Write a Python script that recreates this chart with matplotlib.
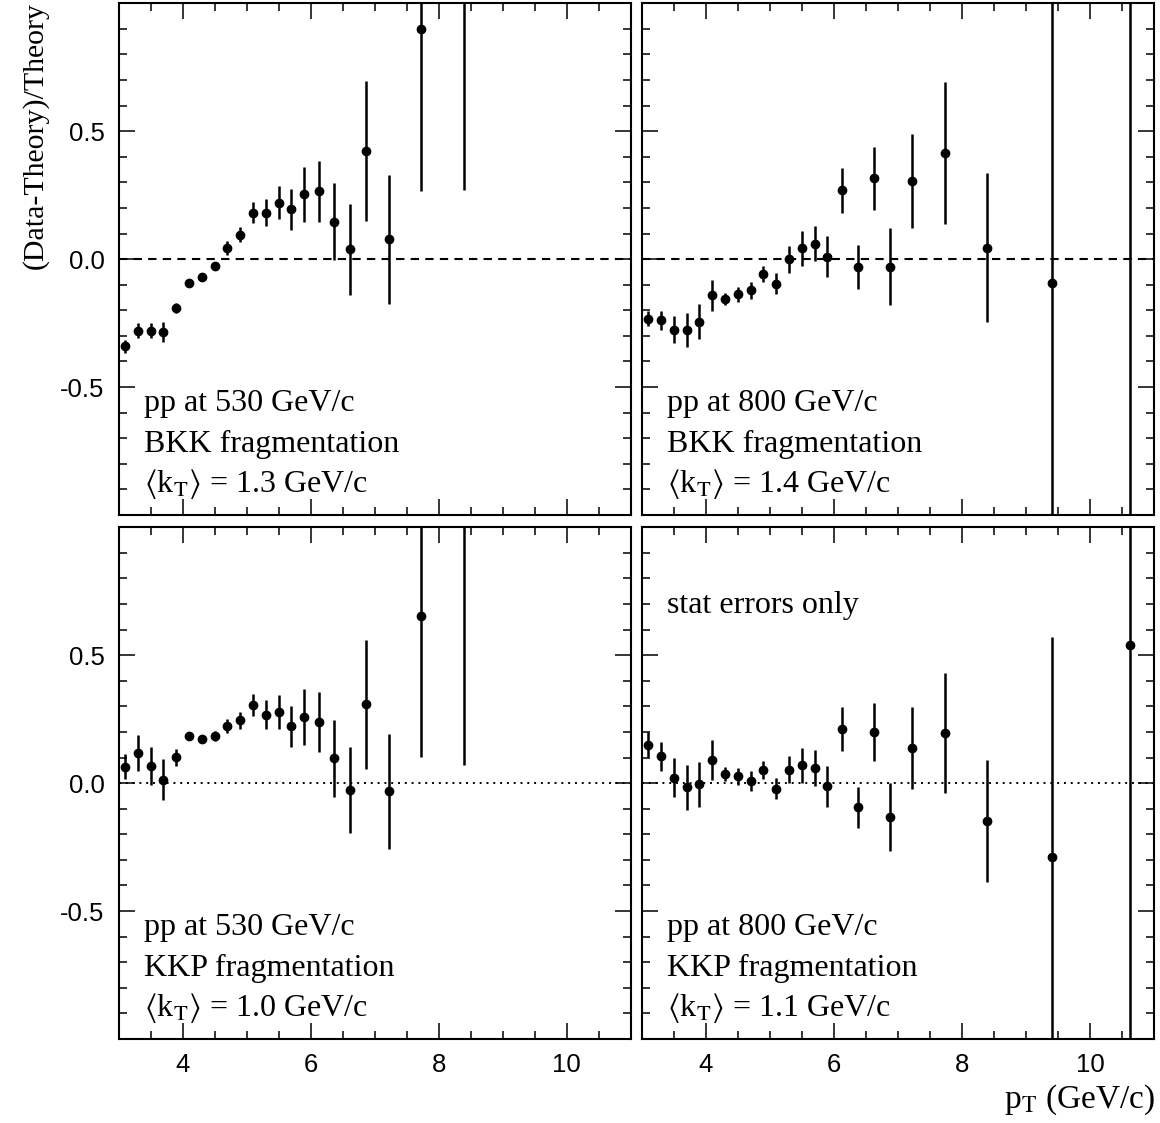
import matplotlib
matplotlib.use("Agg")
import matplotlib.pyplot as plt
from matplotlib.ticker import MultipleLocator, FixedLocator

plt.rcParams['font.family'] = ['Liberation Sans', 'DejaVu Sans']
plt.rcParams['mathtext.fontset'] = 'stix'

# pT bin centres (GeV/c)
pt_530 = [3.1, 3.3, 3.5, 3.7, 3.9, 4.1, 4.3, 4.5, 4.7, 4.9, 5.1, 5.3, 5.5, 5.7, 5.9,
          6.13, 6.37, 6.62, 6.87, 7.22, 7.73, 8.39]
pt_800 = pt_530 + [9.4, 10.63]

# (Data-Theory)/Theory, pp at 530 GeV/c, BKK
y530_bkk = [-0.34, -0.28, -0.28, -0.285, -0.19, -0.095, -0.07, -0.025, 0.044, 0.096, 0.182,
            0.182, 0.221, 0.195, 0.253, 0.265, 0.147, 0.038, 0.422, 0.077, 0.899, 1.25]
e530_bkk = [0.025, 0.03, 0.03, 0.04, 0.02, 0.01, 0.01, 0.015, 0.027, 0.03, 0.04,
            0.054, 0.064, 0.08, 0.107, 0.12, 0.15, 0.177, 0.273, 0.253, 0.634, 0.98]

# pp at 800 GeV/c, BKK
y800_bkk = [-0.232, -0.239, -0.275, -0.278, -0.244, -0.142, -0.156, -0.138, -0.122, -0.057,
            -0.096, -0.001, 0.042, 0.06, 0.009, 0.269, -0.031, 0.316, -0.029, 0.306, 0.414,
            0.044, -0.092, 1.3]
e800_bkk = [0.031, 0.037, 0.054, 0.066, 0.068, 0.062, 0.024, 0.029, 0.033, 0.031,
            0.04, 0.053, 0.068, 0.069, 0.08, 0.087, 0.087, 0.122, 0.149, 0.184, 0.277,
            0.291, 1.5, 2.5]

# pp at 530 GeV/c, KKP
y530_kkp = [0.064, 0.118, 0.067, 0.014, 0.101, 0.184, 0.171, 0.184, 0.223, 0.245, 0.305,
            0.268, 0.278, 0.222, 0.258, 0.239, 0.097, -0.027, 0.309, -0.032, 0.654, 1.1]
e530_kkp = [0.049, 0.07, 0.073, 0.08, 0.034, 0.008, 0.015, 0.018, 0.026, 0.035, 0.044,
            0.058, 0.066, 0.081, 0.11, 0.117, 0.151, 0.167, 0.252, 0.226, 0.55, 1.03]

# pp at 800 GeV/c, KKP
y800_kkp = [0.151, 0.105, 0.022, -0.016, -0.005, 0.092, 0.036, 0.027, 0.009, 0.053,
            -0.022, 0.053, 0.07, 0.06, -0.013, 0.213, -0.095, 0.2, -0.132, 0.138, 0.195,
            -0.148, -0.287, 0.54]
e800_kkp = [0.05, 0.056, 0.076, 0.088, 0.088, 0.078, 0.026, 0.034, 0.038, 0.035,
            0.041, 0.054, 0.068, 0.07, 0.079, 0.086, 0.081, 0.113, 0.133, 0.16, 0.234,
            0.239, 0.86, 2.0]

labels = [
    ["pp at 530 GeV/c", "BKK fragmentation", r"$\langle$k$_{\rm T}$$\rangle$ = 1.3 GeV/c"],
    ["pp at 800 GeV/c", "BKK fragmentation", r"$\langle$k$_{\rm T}$$\rangle$ = 1.4 GeV/c"],
    ["pp at 530 GeV/c", "KKP fragmentation", r"$\langle$k$_{\rm T}$$\rangle$ = 1.0 GeV/c"],
    ["pp at 800 GeV/c", "KKP fragmentation", r"$\langle$k$_{\rm T}$$\rangle$ = 1.1 GeV/c"],
]

W, H = 1160, 1123
fig = plt.figure(figsize=(W / 100, H / 100), dpi=100)

pw, ph = 512.3 / W, 511.7 / H
lefts = [118.5 / W, 641.7 / W]
bottoms = [1 - 515 / H, 1 - 1039 / H]

panels = [
    (pt_530, y530_bkk, e530_bkk),
    (pt_800, y800_bkk, e800_bkk),
    (pt_530, y530_kkp, e530_kkp),
    (pt_800, y800_kkp, e800_kkp),
]

serif = ['Liberation Serif', 'DejaVu Serif']

for i, (x, y, e) in enumerate(panels):
    row, col = divmod(i, 2)
    ax = fig.add_axes([lefts[col], bottoms[row], pw, ph])

    if row == 0:
        ax.axhline(0, color='black', lw=1.5, linestyle=(0, (4, 3)), zorder=1)
    else:
        ax.axhline(0, color='black', lw=1.4, linestyle=(0, (1, 2.5)), zorder=1)

    ax.errorbar(x, y, yerr=e, fmt='o', color='black', ms=6, elinewidth=1.8,
                capsize=0, zorder=3)

    ax.xaxis.set_major_locator(MultipleLocator(2))
    ax.xaxis.set_minor_locator(MultipleLocator(0.5))
    ax.yaxis.set_major_locator(FixedLocator([-1.0, -0.5, 0.0, 0.5, 1.0]))
    ax.yaxis.set_minor_locator(MultipleLocator(0.1))
    ax.tick_params(which='both', direction='in', top=True, right=True, width=1.1,
                   labelsize=18.5)
    ax.tick_params(which='major', length=11.5, pad=10)
    ax.tick_params(which='minor', length=5.8)
    for s in ax.spines.values():
        s.set_linewidth(1.5)

    if col == 0:
        ax.set_yticks([-1.0, -0.5, 0.0, 0.5, 1.0])
        ax.set_yticklabels(['', '-0.5', '0.0', '0.5', ''])
    else:
        ax.set_yticklabels([])
    if row == 1:
        ax.set_xticks([4, 6, 8, 10])
        ax.set_xticklabels(['4', '6', '8', '10'])
    else:
        ax.set_xticklabels([])
    ax.set_xlim(3, 11)
    ax.set_ylim(-1, 1)

    for line, yy in zip(labels[i], [0.204, 0.123, 0.044]):
        ax.text(0.05, yy, line, transform=ax.transAxes, family=serif,
                fontsize=23, va='baseline', ha='left')

    if i == 3:
        ax.text(0.05, 0.832, "stat errors only", transform=ax.transAxes,
                family=serif, fontsize=23, va='baseline', ha='left')

fig.text(0.030, 0.998, "(Data-Theory)/Theory", rotation=90, family=serif,
         fontsize=21.5, ha='center', va='top')
fig.text(0.996, 0.014, r"p$_{\rm T}$ (GeV/c)", family=serif, fontsize=24,
         ha='right', va='baseline')

fig.savefig("out.png", dpi=100)
